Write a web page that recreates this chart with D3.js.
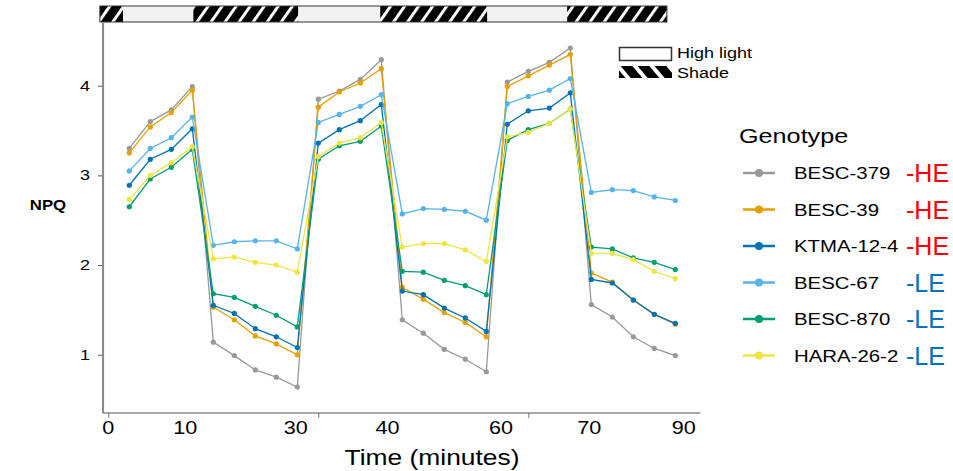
<!DOCTYPE html>
<html>
<head>
<meta charset="utf-8">
<script src="https://cdn.jsdelivr.net/npm/d3@7"></script>
<style>
  body { margin: 0; background: #fff; }
  text { font-family: "Liberation Sans", Arial, sans-serif; }
</style>
</head>
<body>
<svg id="chart" width="953" height="471"></svg>
<script>
// measurement number 1..27 along the protocol
const steps = d3.range(1, 28);

const genotypes = ["BESC-379", "BESC-39", "KTMA-12-4", "BESC-67", "BESC-870", "HARA-26-2"];
const groups = ["-HE", "-HE", "-HE", "-LE", "-LE", "-LE"];
const colors = ["#999999", "#E69F00", "#0072B2", "#56B4E9", "#009E73", "#F0E442"];

const npq379 = [3.30, 3.60, 3.73, 3.99, 1.14, 0.99, 0.83, 0.75, 0.64, 3.85, 3.94, 4.07, 4.29, 1.39, 1.24, 1.06, 0.95, 0.81, 4.04, 4.16, 4.26, 4.42, 1.56, 1.42, 1.20, 1.07, 0.99];
const npq39  = [3.25, 3.54, 3.70, 3.95, 1.53, 1.39, 1.21, 1.12, 1.00, 3.76, 3.93, 4.03, 4.19, 1.75, 1.62, 1.47, 1.36, 1.20, 3.99, 4.11, 4.23, 4.35, 1.91, 1.81, 1.61, 1.45, 1.34];
const npqK   = [2.89, 3.18, 3.29, 3.52, 1.55, 1.46, 1.29, 1.20, 1.08, 3.36, 3.51, 3.61, 3.79, 1.71, 1.67, 1.52, 1.41, 1.26, 3.57, 3.72, 3.75, 3.92, 1.84, 1.80, 1.61, 1.45, 1.35];
const npq67  = [3.05, 3.30, 3.42, 3.65, 2.22, 2.26, 2.27, 2.27, 2.18, 3.59, 3.68, 3.77, 3.90, 2.57, 2.63, 2.62, 2.60, 2.50, 3.80, 3.88, 3.95, 4.08, 2.81, 2.84, 2.83, 2.76, 2.72];
const npq870 = [2.65, 2.96, 3.09, 3.29, 1.68, 1.64, 1.54, 1.44, 1.31, 3.18, 3.33, 3.38, 3.55, 1.93, 1.92, 1.83, 1.77, 1.67, 3.39, 3.51, 3.58, 3.74, 2.20, 2.18, 2.08, 2.03, 1.95];
const npqH   = [2.73, 3.00, 3.14, 3.32, 2.07, 2.09, 2.03, 2.00, 1.92, 3.21, 3.36, 3.42, 3.59, 2.20, 2.24, 2.24, 2.17, 2.04, 3.43, 3.48, 3.58, 3.74, 2.13, 2.13, 2.06, 1.93, 1.85];
const seriesValues = [npq379, npq39, npqK, npq67, npq870, npqH];

// light regime bar, in measurement units
const phaseStart = [-0.4, 0.7, 4.05, 9.05, 12.95, 18.05, 21.85];
const phaseEnd   = [0.7, 4.05, 9.05, 12.95, 18.05, 21.85, 26.6];
const phaseType  = ["shade", "light", "shade", "light", "shade", "light", "shade"];

// hand placed time labels (minutes) and where they sit
const timeLabels = ["0", "10", "30", "40", "60", "70", "90"];
const timeLabelAt = [0, 3.66, 8.93, 13.3, 18.7, 22.9, 27.4];
const yTicks = [1, 2, 3, 4];

const svg = d3.select("#chart");
const x = d3.scaleLinear().domain([0, 27]).range([108.3, 675.3]);
const y = d3.scaleLinear().domain([0, 4]).range([444.4, 85.7]);

// stretched text, the original figure is wider than it is tall
function stext(g, px, py, str, size, opts = {}) {
  return g.append("text")
    .attr("transform", `translate(${px},${py}) scale(1.2,1)`)
    .attr("font-size", size)
    .attr("text-anchor", opts.anchor || "start")
    .attr("font-weight", opts.weight || "normal")
    .attr("fill", opts.fill || "#000")
    .text(str);
}

const defs = svg.append("defs");
defs.append("pattern")
  .attr("id", "stripes")
  .attr("patternUnits", "userSpaceOnUse")
  .attr("width", 11.5).attr("height", 11.5)
  .attr("patternTransform", "rotate(35)")
  .call(p => {
    p.append("rect").attr("width", 11.5).attr("height", 11.5).attr("fill", "#000");
    p.append("rect").attr("width", 3).attr("height", 11.5).attr("fill", "#fff");
  });
defs.append("pattern")
  .attr("id", "stripes2")
  .attr("patternUnits", "userSpaceOnUse")
  .attr("width", 13).attr("height", 13)
  .attr("patternTransform", "rotate(-40)")
  .call(p => {
    p.append("rect").attr("width", 13).attr("height", 13).attr("fill", "#000");
    p.append("rect").attr("width", 4).attr("height", 13).attr("fill", "#fff");
  });

// light regime bar
const bar = svg.append("g");
phaseType.forEach((t, i) => {
  bar.append("rect")
    .attr("x", x(phaseStart[i]))
    .attr("y", 6)
    .attr("width", x(phaseEnd[i]) - x(phaseStart[i]))
    .attr("height", 16)
    .attr("fill", t === "shade" ? "url(#stripes)" : "#f2f2f2");
});
bar.append("rect")
  .attr("x", x(phaseStart[0])).attr("y", 6)
  .attr("width", x(phaseEnd[phaseEnd.length - 1]) - x(phaseStart[0]))
  .attr("height", 16)
  .attr("fill", "none").attr("stroke", "#333").attr("stroke-width", 1);

// axes
const yAxis = svg.append("g")
  .attr("transform", `translate(${x(-0.25)},0)`)
  .call(d3.axisLeft(y).tickValues(yTicks).tickSize(5).tickFormat(""));
yAxis.select(".domain").remove();
yAxis.selectAll(".tick line").attr("stroke", "#555");
svg.append("line")
  .attr("x1", x(-0.25)).attr("x2", x(-0.25))
  .attr("y1", 23).attr("y2", y(0.35))
  .attr("stroke", "#888").attr("stroke-width", 2);
yTicks.forEach(v => stext(svg, 90, y(v) + 5, String(v), 15, { anchor: "end" }));

const xAxis = svg.append("g")
  .attr("transform", `translate(0,${y(0.35)})`)
  .call(d3.axisBottom(x).tickValues([0, 10, 20]).tickSize(5).tickFormat(""));
xAxis.select(".domain").remove();
xAxis.selectAll(".tick line").attr("stroke", "#777");
svg.append("line")
  .attr("x1", x(-0.25)).attr("x2", x(28.2))
  .attr("y1", y(0.35)).attr("y2", y(0.35))
  .attr("stroke", "#555").attr("stroke-width", 1.2);
timeLabels.forEach((t, i) => stext(svg, x(timeLabelAt[i]), 434, t, 18, { anchor: "middle" }));

stext(svg, 432, 465, "Time (minutes)", 22, { anchor: "middle" });
stext(svg, 48, 210, "NPQ", 14, { anchor: "middle", weight: "bold" });

// series
const line = d3.line().x((d, i) => x(steps[i])).y(d => y(d));
const plot = svg.append("g");
seriesValues.forEach((vals, k) => {
  plot.append("path")
    .attr("d", line(vals))
    .attr("fill", "none")
    .attr("stroke", colors[k])
    .attr("stroke-width", 1.3);
  plot.selectAll(null)
    .data(vals)
    .enter()
    .append("circle")
    .attr("cx", (d, i) => x(steps[i]))
    .attr("cy", d => y(d))
    .attr("r", 2.6)
    .attr("fill", colors[k]);
});

// light legend
svg.append("rect").attr("x", 619.5).attr("y", 47.5).attr("width", 52).attr("height", 13)
  .attr("fill", "#fff").attr("stroke", "#333").attr("stroke-width", 1.5);
stext(svg, 677, 58, "High light", 15);
svg.append("rect").attr("x", 619).attr("y", 66).attr("width", 53).attr("height", 12)
  .attr("fill", "url(#stripes2)");
stext(svg, 677, 78, "Shade", 15);

// genotype legend
const leg = svg.append("g");
stext(leg, 739, 143, "Genotype", 21);
const legY = d3.scaleLinear().domain([0, 5]).range([173, 355.5]);
genotypes.forEach((g, k) => {
  const cy = legY(k);
  leg.append("line").attr("x1", 743).attr("x2", 775).attr("y1", cy).attr("y2", cy)
    .attr("stroke", colors[k]).attr("stroke-width", 2.5);
  leg.append("circle").attr("cx", 759).attr("cy", cy).attr("r", 4).attr("fill", colors[k]);
  stext(leg, 794, cy + 6, g, 17);
  leg.append("text")
    .attr("x", 906).attr("y", cy + 9)
    .attr("font-family", "'Open Sans', sans-serif")
    .attr("font-size", 25)
    .attr("fill", groups[k] === "-HE" ? "#FF0000" : "#0070C0")
    .text(groups[k]);
});
</script>
</body>
</html>
